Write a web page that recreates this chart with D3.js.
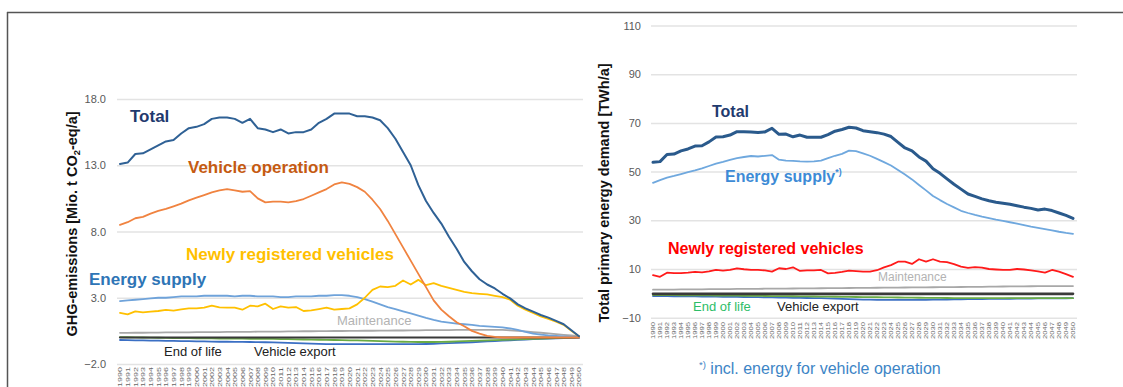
<!DOCTYPE html>
<html><head><meta charset="utf-8">
<script src="https://cdn.jsdelivr.net/npm/d3@7"></script>
<style>
html,body{margin:0;padding:0;background:#fff;}
svg{display:block;font-family:"Liberation Sans",Arial,sans-serif;}
</style></head>
<body>
<svg id="c" width="1123" height="387"></svg>
<script>
const years = d3.range(1990, 2051);

// ---- Left chart: GHG emissions [Mio. t CO2-eq/a]
const ghgTicks = [-2, 3, 8, 13, 18];
const ghgTotal = [13.1,13.2,13.85,13.9,14.2,14.5,14.8,14.9,15.4,15.8, 15.9,16.1,16.5,16.6,16.6,16.5,16.2,16.5,15.8,15.7, 15.5,15.7,15.4,15.5,15.5,15.7,16.2,16.5,16.9,16.9, 16.9,16.7,16.7,16.6,16.4,15.8,15.0,14.0,13.0,11.5, 10.3,9.4,8.6,7.6,6.7,5.7,5.0,4.4,4.0,3.7, 3.3,2.95,2.5,2.2,1.95,1.7,1.5,1.25,1.0,0.55,0.1];
const ghgVehicleOperation = [8.5,8.7,9.0,9.1,9.35,9.55,9.7,9.9,10.1,10.35, 10.55,10.75,10.95,11.1,11.2,11.1,11.0,11.05,10.5,10.2, 10.25,10.25,10.2,10.3,10.45,10.7,10.95,11.2,11.55,11.7, 11.6,11.35,11.0,10.4,9.7,8.8,7.8,6.8,5.8,4.8, 3.8,2.8,2.1,1.6,1.15,0.85,0.5,0.3,0.12,0.05, 0,0,0,0,0,0,0,0,0,0,0];
const ghgNewlyRegistered = [1.85,1.75,1.97,1.9,1.95,2.0,2.08,2.03,2.12,2.2, 2.2,2.25,2.4,2.27,2.25,2.25,2.1,2.4,2.35,2.55, 2.15,2.35,2.25,2.3,2.0,2.05,2.15,2.25,2.1,2.15, 2.2,2.5,3.0,3.6,3.85,3.8,3.9,4.3,4.0,4.35, 3.95,4.1,3.9,3.75,3.6,3.45,3.35,3.3,3.25,3.15, 3.05,2.85,2.4,2.1,1.85,1.6,1.4,1.2,0.95,0.5,0.1];
const ghgEnergySupply = [2.75,2.8,2.85,2.9,2.95,3.0,3.0,3.05,3.1,3.1, 3.1,3.15,3.15,3.15,3.15,3.1,3.15,3.15,3.1,3.1, 3.1,3.05,3.05,3.1,3.1,3.1,3.15,3.15,3.2,3.2, 3.15,3.05,2.9,2.7,2.5,2.3,2.15,1.98,1.82,1.65, 1.48,1.33,1.2,1.12,1.05,1.0,0.95,0.88,0.84,0.8, 0.77,0.68,0.57,0.42,0.3,0.22,0.16,0.13,0.09,0.05,0.02];
const ghgMaintenance = [0.35,0.35,0.36,0.36,0.37,0.37,0.38,0.38,0.39,0.39, 0.4,0.4,0.41,0.41,0.42,0.42,0.43,0.43,0.44,0.44, 0.45,0.45,0.46,0.46,0.47,0.47,0.48,0.48,0.49,0.49, 0.5,0.5,0.51,0.51,0.52,0.52,0.53,0.53,0.54,0.54, 0.55,0.55,0.56,0.56,0.57,0.57,0.58,0.58,0.58,0.58, 0.57,0.54,0.5,0.46,0.41,0.36,0.31,0.25,0.2,0.15,0.1];
const ghgVehicleExport = [0,0,0,0,0,0,0,0,0,0, 0,0,0,0,0,0,0,0,0,0, 0,0,0,0,0,0,0,0,0,0, 0,0,0,0,0,0,0,0,0,0, 0,0,0,0,0,0,0,0,0,0, 0,0,0,0,0,0,0,0,0,0,0];
const ghgEndOfLife = [0.03,0.02,0.01,0.0,-0.01,-0.02,-0.03,-0.04,-0.05,-0.05, -0.06,-0.07,-0.07,-0.08,-0.08,-0.09,-0.09,-0.1,-0.1,-0.11, -0.11,-0.12,-0.13,-0.14,-0.15,-0.16,-0.17,-0.18,-0.19,-0.2, -0.21,-0.22,-0.23,-0.25,-0.27,-0.29,-0.31,-0.32,-0.33,-0.34, -0.34,-0.34,-0.33,-0.32,-0.3,-0.28,-0.26,-0.24,-0.22,-0.2, -0.18,-0.16,-0.14,-0.12,-0.1,-0.08,-0.06,-0.04,-0.02,0.0,0.02];
const ghgCredits = [-0.19,-0.2,-0.21,-0.22,-0.23,-0.24,-0.25,-0.26,-0.27,-0.28, -0.29,-0.3,-0.31,-0.32,-0.32,-0.33,-0.33,-0.34,-0.35,-0.36, -0.37,-0.38,-0.4,-0.42,-0.44,-0.46,-0.48,-0.5,-0.5,-0.5, -0.5,-0.5,-0.5,-0.5,-0.5,-0.5,-0.5,-0.5,-0.5,-0.5, -0.49,-0.47,-0.45,-0.43,-0.41,-0.39,-0.36,-0.33,-0.3,-0.27, -0.24,-0.21,-0.18,-0.15,-0.12,-0.1,-0.08,-0.06,-0.04,-0.02,0.0];

// ---- Right chart: Total primary energy demand [TWh/a]
const pedTicks = [-10, 10, 30, 50, 70, 90, 110];
const pedTotal = [53.8,54.1,57.0,57.2,58.5,59.3,60.5,60.6,62.2,64.2, 64.3,65.0,66.4,66.4,66.3,66.1,66.3,67.8,65.3,65.4, 64.3,65.0,64.1,64.1,64.1,65.2,66.6,67.3,68.2,67.9, 66.8,66.4,66.0,65.4,64.4,62.0,59.7,58.5,56.0,54.3, 51.2,49.3,47.0,44.8,42.8,40.8,39.8,38.8,38.0,37.4, 37.0,36.6,36.0,35.4,34.9,34.2,34.6,34.0,33.0,32.0,30.8];
const pedEnergySupply = [45.4,46.5,47.5,48.2,49.0,49.8,50.5,51.3,52.3,53.3, 54.0,54.8,55.5,56.0,56.4,56.2,56.5,56.8,54.9,54.5, 54.4,54.2,54.1,54.2,54.5,55.5,56.5,57.3,58.6,58.4, 57.5,56.5,55.2,53.9,52.5,50.7,48.8,46.8,44.5,42.3, 40.0,38.3,36.7,35.3,33.9,33.0,32.2,31.5,30.9,30.3, 29.8,29.2,28.6,28.0,27.4,26.9,26.4,25.9,25.3,24.8,24.4];
const pedNewlyRegistered = [7.5,6.8,8.5,8.3,8.3,8.5,8.8,8.6,9.0,9.6, 9.3,9.6,10.3,9.9,9.6,9.6,9.4,8.9,10.3,10.0, 10.7,9.2,9.4,9.4,9.6,8.2,8.4,8.8,9.3,9.1, 8.9,8.9,9.5,10.7,11.6,13.0,13.0,12.1,14.0,13.0, 14.0,13.0,12.8,12.0,11.0,10.5,10.8,10.6,10.0,9.8, 9.6,9.6,10.0,9.8,9.4,9.0,8.5,9.6,8.9,7.9,6.8];
const pedMaintenance = [1.5,1.52,1.55,1.57,1.6,1.62,1.65,1.67,1.7,1.72, 1.75,1.77,1.8,1.82,1.85,1.87,1.9,1.92,1.95,1.97, 2.0,2.02,2.05,2.07,2.1,2.12,2.15,2.17,2.2,2.22, 2.25,2.27,2.3,2.32,2.35,2.37,2.4,2.42,2.45,2.47, 2.5,2.52,2.55,2.57,2.6,2.62,2.65,2.7,2.75,2.8, 2.82,2.85,2.87,2.9,2.92,2.94,2.95,2.96,2.97,2.98,3.0];
const pedVehicleExport = [-0.2,-0.2,-0.2,-0.2,-0.2,-0.2,-0.2,-0.2,-0.2,-0.2, -0.2,-0.2,-0.2,-0.2,-0.2,-0.2,-0.2,-0.2,-0.2,-0.2, -0.2,-0.2,-0.2,-0.2,-0.2,-0.2,-0.2,-0.2,-0.2,-0.2, -0.2,-0.2,-0.2,-0.2,-0.2,-0.2,-0.2,-0.2,-0.2,-0.2, -0.2,-0.2,-0.2,-0.2,-0.2,-0.2,-0.2,-0.2,-0.2,-0.2, -0.2,-0.2,-0.2,-0.2,-0.2,-0.2,-0.2,-0.2,-0.2,-0.2,-0.2];
const pedEndOfLife = [-0.7,-0.72,-0.74,-0.76,-0.78,-0.8,-0.82,-0.84,-0.86,-0.88, -0.9,-0.93,-0.96,-0.99,-1.02,-1.05,-1.08,-1.11,-1.14,-1.17, -1.2,-1.23,-1.26,-1.3,-1.33,-1.36,-1.4,-1.43,-1.46,-1.5, -1.53,-1.56,-1.6,-1.63,-1.66,-1.7,-1.73,-1.76,-1.8,-1.83, -1.86,-1.88,-1.9,-1.92,-1.94,-1.95,-1.96,-1.97,-1.98,-1.98, -1.99,-1.99,-2.0,-2.0,-2.0,-2.0,-2.0,-2.0,-2.0,-2.0,-2.0];
const pedCredits = [-1.1,-1.13,-1.16,-1.19,-1.22,-1.25,-1.28,-1.31,-1.34,-1.37, -1.4,-1.43,-1.46,-1.5,-1.54,-1.58,-1.62,-1.66,-1.7,-1.75, -1.8,-1.85,-1.9,-1.95,-2.0,-2.1,-2.2,-2.3,-2.4,-2.5, -2.55,-2.6,-2.65,-2.7,-2.7,-2.7,-2.7,-2.7,-2.68,-2.65, -2.6,-2.56,-2.52,-2.48,-2.44,-2.4,-2.37,-2.34,-2.31,-2.28, -2.25,-2.22,-2.19,-2.16,-2.13,-2.1,-2.08,-2.06,-2.04,-2.02,-2.0];

const svg = d3.select("#c");
const FONT = '"Liberation Sans",Arial,sans-serif';

// frame
svg.append("line").attr("x1",7).attr("y1",12.5).attr("x2",1123).attr("y2",12.5).attr("stroke","#555").attr("stroke-width",1.5);
svg.append("line").attr("x1",7.5).attr("y1",12).attr("x2",7.5).attr("y2",387).attr("stroke","#555").attr("stroke-width",1.5);

function drawChart(cfg){
  const g = svg.append("g");
  const x = d3.scaleLinear().domain([1990,2050]).range(cfg.xr);
  const y = d3.scaleLinear().domain(cfg.yd).range(cfg.yr);
  const grid = g.append("g").attr("transform",`translate(${cfg.gridX1},0)`)
    .call(d3.axisLeft(y).tickValues(cfg.ticks).tickSize(-(cfg.gridX2-cfg.gridX1)).tickFormat(cfg.fmt).tickPadding(cfg.tickPad));
  grid.select(".domain").remove();
  grid.selectAll(".tick line").attr("stroke","#e3e3e3").attr("stroke-width",1.5);
  grid.selectAll(".tick text").attr("fill","#595959").attr("font-size",11).attr("font-family",FONT);
  const xa = g.append("g").attr("transform",`translate(0,${cfg.yearY})`)
    .call(d3.axisBottom(x).tickValues(years).tickFormat(d3.format("d")).tickSize(0));
  xa.select(".domain").remove();
  xa.selectAll(".tick text")
    .attr("fill","#666").attr("font-size",6).attr("font-family",FONT)
    .attr("text-anchor","end").attr("dy","0.33em").attr("y",0).attr("x",0)
    .attr("transform","rotate(-90)")
    .attr("textLength",cfg.yearLen).attr("lengthAdjust","spacingAndGlyphs");
  const line = d3.line().x((d,i)=>x(years[i])).y(d=>y(d));
  cfg.series.forEach(s=>{
    g.append("path").datum(s.values).attr("d",line)
      .attr("fill","none").attr("stroke",s.color).attr("stroke-width",s.w)
      .attr("stroke-linejoin","round").attr("stroke-linecap","round");
  });
  return {x,y};
}

drawChart({
  xr:[120,579], yd:[-2,18], yr:[364,99], ticks:ghgTicks, fmt:d3.format(".1f"),
  gridX1:117, gridX2:583, tickPad:11, yearY:367, yearLen:20,
  series:[
    {values:ghgMaintenance,color:"#a8a8a8",w:1.8},
    {values:ghgCredits,color:"#3b6fc4",w:1.8},
    {values:ghgEndOfLife,color:"#6aab45",w:1.8},
    {values:ghgVehicleExport,color:"#3a3a3a",w:2.2},
    {values:ghgEnergySupply,color:"#6fa3da",w:1.8},
    {values:ghgNewlyRegistered,color:"#ffc000",w:1.8},
    {values:ghgVehicleOperation,color:"#f08340",w:1.8},
    {values:ghgTotal,color:"#2f6195",w:2.0}
  ]
});

drawChart({
  xr:[653,1073], yd:[-10,110], yr:[317.7,25.5], ticks:pedTicks, fmt:d3.format("d"),
  gridX1:651, gridX2:1077, tickPad:10, yearY:322, yearLen:17,
  series:[
    {values:pedMaintenance,color:"#a8a8a8",w:1.8},
    {values:pedCredits,color:"#3b6fc4",w:1.8},
    {values:pedEndOfLife,color:"#6aab45",w:1.8},
    {values:pedVehicleExport,color:"#3a3a3a",w:2.6},
    {values:pedNewlyRegistered,color:"#ff1a1a",w:1.8},
    {values:pedEnergySupply,color:"#6fa8de",w:1.8},
    {values:pedTotal,color:"#2a5a8c",w:3.0}
  ]
});

function vtitle(cx, cy, parts, size){
  const t = svg.append("text").attr("transform",`translate(${cx},${cy}) rotate(-90)`)
    .attr("text-anchor","middle").attr("font-family",FONT).attr("font-weight","bold")
    .attr("font-size",size).attr("fill","#111");
  parts.forEach(p=>{
    const ts = t.append("tspan").text(p.t);
    if(p.sub){ ts.attr("font-size",size*0.65).attr("dy",3); }
    if(p.after){ ts.attr("dy",-3); }
  });
}
vtitle(77, 224, [{t:"GHG-emissions [Mio. t CO"},{t:"2",sub:true},{t:"-eq/a]",after:true}], 14.5);
vtitle(609, 193, [{t:"Total primary energy demand [TWh/a]"}], 14.5);

function lab(x, y, txt, color, size, bold, sup){
  const t = svg.append("text").attr("x",x).attr("y",y).attr("fill",color)
    .attr("font-size",size).attr("font-family",FONT).attr("font-weight",bold?"bold":"normal").text(txt);
  if(sup){ t.append("tspan").attr("font-size",size*0.55).attr("dy",-size*0.45).text(sup); }
  return t;
}
lab(130,122,"Total","#1f3a6e",17,true);
lab(188,173,"Vehicle operation","#c55a11",17,true);
lab(186,260,"Newly registered vehicles","#ffc000",17,true);
lab(89,285,"Energy supply","#2e75b6",17,true);
lab(337,325,"Maintenance","#b3b3b3",13,false);
lab(164,356,"End of life","#222",13,false);
lab(254,356,"Vehicle export","#222",13,false);

lab(712,117,"Total","#1f3a6e",16,true);
lab(725,182,"Energy supply","#3d8bd6",16,true,"*)");
lab(668,254,"Newly registered vehicles","#ff0000",16,true);
lab(878,281,"Maintenance","#b3b3b3",12,false);
lab(693,311,"End of life","#2ebd68",13,false);
lab(777,311,"Vehicle export","#222",13,false);
const fn = svg.append("text").attr("x",699).attr("y",374).attr("fill","#3d85c6")
  .attr("font-size",16).attr("font-family",FONT);
fn.append("tspan").attr("font-size",9.5).attr("dy",-6).text("*)");
fn.append("tspan").attr("dy",6).text(" incl. energy for vehicle operation");
</script>
</body></html>
